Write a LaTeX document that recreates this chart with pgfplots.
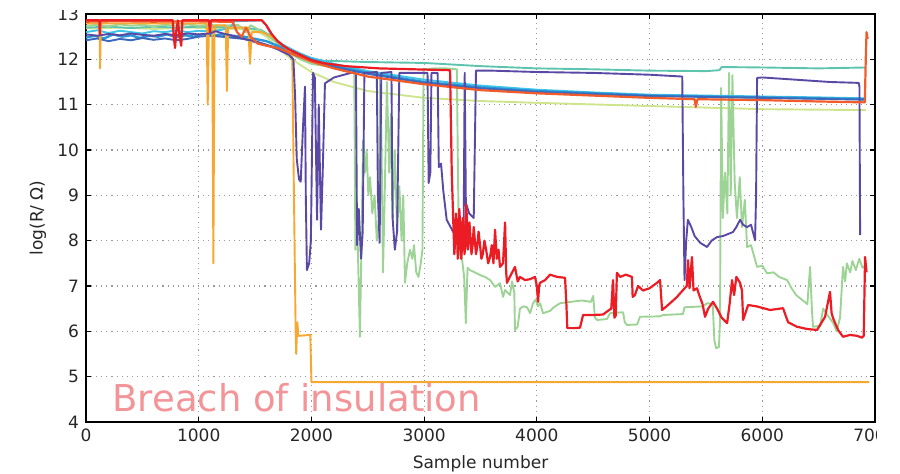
\documentclass[border=0pt]{standalone}
\usepackage{fontspec}
\setmainfont{DejaVu Sans}
\usepackage{pgfplots}
\pgfplotsset{compat=1.18}
\usetikzlibrary{calc}

\definecolor{cRed}{RGB}{236,28,36}
\definecolor{cOrRed}{RGB}{242,92,42}
\definecolor{cOrange}{RGB}{246,168,48}
\definecolor{cPurple}{RGB}{90,72,165}
\definecolor{cGreen}{RGB}{157,212,150}
\definecolor{cTeal}{RGB}{95,196,175}
\definecolor{cCyan}{RGB}{62,196,232}
\definecolor{cBlue}{RGB}{40,150,215}
\definecolor{cDkBlue}{RGB}{58,104,188}
\definecolor{cYGreen}{RGB}{206,229,142}
\definecolor{cNote}{RGB}{243,148,152}

\begin{document}
\begin{tikzpicture}
\begin{axis}[
  scale only axis, width=394.5pt, height=204pt,
  xmin=0, xmax=7000, ymin=4, ymax=13,
  xtick={0,1000,...,7000}, ytick={4,5,...,13},
  grid=major,
  major grid style={gray!80, line width=0.55pt, dash pattern=on 0.55pt off 2pt},
  tick align=inside, tick pos=both, major tick length=2.5pt,
  every tick/.style={black, line width=0.6pt},
  axis line style={black, line width=1pt},
  ticklabel style={font=\fontsize{8.5}{10}\selectfont, text=black!85},
  /pgf/number format/assume math mode=true,
  /pgf/number format/1000 sep={},
  xlabel={Sample number}, ylabel={log(R/ Ω)},
  label style={font=\fontsize{8.5}{10}\selectfont, text=black!85},
  xlabel style={at={(axis description cs:0.5,-0.115)}, anchor=base},
  ylabel style={at={(axis description cs:-0.061,0.5)}, anchor=center},
  every axis plot/.append style={line width=0.95pt, line join=round, mark=none},
]
\coordinate (SW) at (rel axis cs:0,0);
\coordinate (NE) at (rel axis cs:1,1);

% insulated samples that settle near 11
\addplot[cYGreen] coordinates {(0,12.68)(300,12.7)(600,12.67)(900,12.7)(1200,12.68)(1500,12.65)(1600,12.5)(1700,12.25)(1800,12.05)(1900,11.88)(2000,11.72)(2200,11.5)(2500,11.3)(3000,11.15)(3500,11.08)(4000,11.04)(5000,10.97)(6000,10.9)(6920,10.88)};
\addplot[cTeal] coordinates {(0,12.7)(200,12.72)(400,12.69)(600,12.72)(800,12.7)(1000,12.72)(1200,12.71)(1400,12.7)(1550,12.65)(1650,12.5)(1750,12.32)(1850,12.18)(1950,12.05)(2100,11.97)(2500,11.94)(3000,11.92)(3500,11.85)(4000,11.8)(4500,11.78)(5000,11.75)(5500,11.74)(5620,11.76)(5640,11.83)(6000,11.82)(6500,11.8)(6920,11.82)};

% sample with repeated breakdowns
\addplot[cGreen] coordinates {(0,12.74)(100,12.76)(200,12.73)(300,12.77)(400,12.74)(500,12.76)(600,12.73)(700,12.76)(800,12.74)(900,12.77)(1000,12.74)(1100,12.76)(1200,12.74)(1350,12.76)(1420,12.6)(1460,12.75)(1500,12.7)(1600,12.55)(1700,12.35)(1800,12.15)(1900,12.0)(2000,11.9)(2200,11.82)(2380,11.78)(2390,7.8)(2400,9.0)(2415,7.5)(2430,5.88)(2445,8.0)(2458,10.2)(2475,9.5)(2490,10.0)(2505,9.0)(2520,9.4)(2540,8.6)(2560,9.0)(2580,8.0)(2600,8.5)(2610,11.7)(2620,10.5)(2635,7.3)(2650,9.0)(2670,11.5)(2690,9.5)(2705,10.8)(2720,8.5)(2740,10.0)(2760,8.2)(2780,9.2)(2800,8.0)(2815,9.0)(2830,7.07)(2850,7.5)(2875,7.8)(2895,7.6)(2910,7.9)(2930,7.3)(2950,7.2)(2970,7.5)(2985,7.8)(2995,11.78)(3100,11.8)(3200,11.8)(3290,11.78)(3300,9.5)(3310,7.7)(3320,8.0)(3337,7.57)(3355,7.2)(3370,6.18)(3385,7.4)(3407,7.35)(3450,7.3)(3496,7.24)(3540,7.2)(3585,7.13)(3630,6.98)(3673,7.06)(3700,6.76)(3718,6.91)(3762,6.8)(3780,7.1)(3800,6.85)(3806,6.03)(3830,6.1)(3850,6.5)(3880,6.55)(3913,6.53)(3940,6.4)(3966,6.62)(3990,6.7)(4010,6.55)(4028,6.62)(4055,6.4)(4117,6.45)(4150,6.53)(4206,6.62)(4300,6.65)(4400,6.68)(4480,6.65)(4500,6.78)(4515,6.3)(4535,6.25)(4622,6.27)(4650,6.4)(4765,6.42)(4780,6.2)(4800,6.14)(4890,6.15)(4915,6.32)(5093,6.33)(5120,6.36)(5297,6.38)(5310,6.53)(5475,6.55)(5510,6.62)(5560,6.6)(5575,5.8)(5590,5.63)(5615,5.65)(5625,6.2)(5635,11.37)(5650,8.5)(5670,9.5)(5690,8.6)(5705,11.7)(5720,9.0)(5735,11.65)(5755,9.3)(5775,8.5)(5800,9.4)(5820,8.3)(5845,8.9)(5865,7.86)(5900,7.9)(5954,7.42)(6000,7.45)(6042,7.28)(6100,7.3)(6150,7.2)(6220,7.13)(6260,6.95)(6300,6.8)(6350,6.7)(6400,6.6)(6424,7.42)(6440,6.5)(6450,6.1)(6513,6.12)(6540,6.5)(6580,6.35)(6630,6.18)(6660,6.0)(6690,6.3)(6716,7.42)(6735,7.1)(6750,7.5)(6780,7.3)(6800,7.55)(6830,7.35)(6860,7.6)(6890,7.4)(6920,7.45)};

% samples that stay insulated
\addplot[cCyan] coordinates {(0,12.6)(100,12.64)(200,12.58)(300,12.63)(400,12.6)(500,12.57)(600,12.62)(700,12.6)(800,12.64)(900,12.6)(1000,12.63)(1100,12.62)(1200,12.65)(1280,12.7)(1320,12.84)(1560,12.86)(1600,12.75)(1650,12.5)(1700,12.38)(1800,12.25)(1900,12.13)(2000,12.03)(2200,11.9)(2500,11.74)(3000,11.55)(3500,11.42)(4000,11.33)(4500,11.27)(5000,11.22)(5500,11.2)(6000,11.18)(6500,11.16)(6920,11.14)};
\addplot[cBlue, line width=1.2pt] coordinates {(0,12.48)(80,12.52)(160,12.46)(240,12.55)(320,12.5)(400,12.53)(480,12.47)(560,12.52)(640,12.5)(720,12.55)(800,12.49)(880,12.53)(960,12.5)(1040,12.56)(1120,12.52)(1200,12.55)(1300,12.52)(1400,12.5)(1500,12.45)(1600,12.4)(1700,12.3)(1800,12.2)(1900,12.1)(2000,12.0)(2200,11.85)(2500,11.7)(3000,11.5)(3500,11.38)(4000,11.3)(4500,11.25)(5000,11.2)(5500,11.18)(6000,11.16)(6500,11.14)(6920,11.12)};
\addplot[cDkBlue] coordinates {(0,12.42)(100,12.46)(200,12.4)(300,12.45)(400,12.42)(500,12.47)(600,12.43)(700,12.46)(800,12.42)(900,12.45)(1000,12.5)(1100,12.52)(1200,12.5)(1400,12.45)(1500,12.38)(1600,12.32)(1700,12.25)(1800,12.15)(1900,12.05)(2000,11.97)(2200,11.83)(2500,11.68)(3000,11.48)(3500,11.36)(4000,11.28)(5000,11.19)(6000,11.15)(6920,11.11)};

% sample that breaks down for good
\addplot[cOrange] coordinates {(0,12.79)(120,12.79)(125,11.8)(132,12.79)(1070,12.79)(1080,11.0)(1090,12.7)(1120,12.75)(1130,7.5)(1140,12.6)(1150,12.75)(1240,12.75)(1250,11.3)(1262,12.7)(1440,12.7)(1455,11.9)(1470,12.6)(1560,12.6)(1650,12.5)(1720,12.35)(1800,12.2)(1830,12.1)(1840,10.0)(1850,8.0)(1860,6.0)(1865,5.5)(1875,6.2)(1885,5.9)(1990,5.92)(2000,4.88)(4000,4.88)(6950,4.88)};

% intermittent sample
\addplot[cPurple] coordinates {(0,12.55)(100,12.52)(200,12.56)(300,12.53)(400,12.57)(500,12.54)(600,12.52)(700,12.56)(800,12.53)(900,12.57)(1000,12.55)(1100,12.57)(1150,12.62)(1200,12.58)(1300,12.52)(1400,12.45)(1500,12.4)(1600,12.32)(1700,12.22)(1800,12.1)(1840,12.0)(1855,11.2)(1870,9.8)(1890,9.35)(1905,9.3)(1925,10.5)(1943,11.4)(1950,9.0)(1960,7.35)(1980,7.5)(1995,8.0)(2014,11.7)(2030,11.6)(2050,8.46)(2065,11.0)(2085,8.24)(2100,9.5)(2120,11.47)(2200,11.6)(2350,11.7)(2395,11.7)(2405,7.9)(2420,8.7)(2440,7.6)(2455,8.2)(2470,11.7)(2580,11.72)(2590,9.0)(2605,7.95)(2620,11.7)(2710,11.72)(2720,8.5)(2740,7.8)(2760,8.2)(2780,11.7)(3030,11.7)(3040,9.27)(3055,9.5)(3065,11.7)(3120,11.7)(3130,9.62)(3150,9.7)(3170,9.1)(3200,8.46)(3256,8.2)(3300,8.05)(3350,8.1)(3360,11.7)(3370,8.83)(3400,8.6)(3440,8.5)(3460,11.75)(3600,11.75)(4000,11.72)(4500,11.7)(5000,11.66)(5290,11.62)(5300,9.0)(5310,7.13)(5325,8.0)(5340,8.46)(5370,8.3)(5400,8.1)(5450,7.95)(5510,7.86)(5550,8.0)(5599,8.08)(5650,8.1)(5700,8.15)(5740,8.19)(5770,8.3)(5803,8.46)(5830,8.35)(5865,8.3)(5900,8.35)(5936,8.01)(5945,9.0)(5954,11.59)(6000,11.6)(6300,11.55)(6600,11.5)(6855,11.48)(6862,11.4)(6868,8.12)};

\addplot[cOrRed, line width=1.1pt] coordinates {(0,12.83)(300,12.84)(600,12.83)(900,12.84)(1200,12.83)(1300,12.83)(1340,12.6)(1380,12.5)(1420,12.7)(1460,12.5)(1520,12.35)(1600,12.3)(1700,12.25)(1800,12.15)(1900,12.05)(2000,11.95)(2200,11.8)(2500,11.62)(3000,11.45)(3500,11.32)(4000,11.25)(4500,11.2)(5000,11.15)(5400,11.12)(5410,10.95)(5425,11.12)(6000,11.1)(6500,11.07)(6910,11.05)(6918,12.0)(6925,12.6)(6935,12.45)};

\addplot[cRed, line width=1.1pt] coordinates {(0,12.86)(118,12.86)(122,12.55)(128,12.86)(770,12.86)(778,12.5)(790,12.25)(800,12.6)(815,12.86)(830,12.5)(845,12.3)(855,12.86)(1090,12.86)(1100,12.6)(1108,12.86)(1560,12.86)(1600,12.75)(1650,12.55)(1700,12.4)(1750,12.3)(1800,12.22)(1900,12.1)(2000,11.98)(2100,11.92)(2300,11.85)(2600,11.8)(2900,11.78)(3230,11.76)(3245,9.5)(3260,8.3)(3268,7.7)(3275,8.0)(3283,8.6)(3290,8.4)(3298,7.6)(3305,7.9)(3312,8.7)(3320,8.3)(3328,7.6)(3335,7.8)(3342,8.5)(3350,8.2)(3358,7.7)(3365,7.9)(3372,8.8)(3380,8.5)(3388,7.8)(3395,8.0)(3402,8.4)(3410,8.1)(3420,7.7)(3430,7.9)(3440,8.3)(3450,8.0)(3460,7.7)(3470,7.85)(3483,8.2)(3496,7.9)(3508,7.6)(3520,7.7)(3535,8.0)(3550,7.8)(3568,7.5)(3585,7.64)(3600,7.9)(3615,7.5)(3629,8.24)(3645,7.6)(3660,7.8)(3673,7.42)(3700,7.5)(3718,8.4)(3728,7.3)(3735,7.07)(3760,7.2)(3806,7.42)(3830,7.1)(3850,7.2)(3895,7.13)(3940,7.15)(3984,7.2)(4000,7.0)(4011,6.65)(4020,7.0)(4028,7.07)(4073,7.13)(4117,7.25)(4180,7.2)(4250,7.18)(4262,6.6)(4270,6.07)(4330,6.07)(4383,6.08)(4410,6.36)(4500,6.36)(4587,6.37)(4630,6.45)(4660,6.5)(4676,7.13)(4688,6.3)(4700,6.35)(4710,7.29)(4740,7.2)(4790,7.25)(4844,7.2)(4850,6.76)(4870,6.8)(4898,7.0)(4942,6.9)(5000,6.95)(5066,7.07)(5093,7.13)(5111,6.47)(5150,6.55)(5182,6.62)(5240,6.75)(5297,6.91)(5330,7.0)(5341,7.57)(5355,6.95)(5376,7.64)(5390,6.9)(5421,6.95)(5440,6.8)(5470,6.6)(5492,6.32)(5520,6.5)(5563,6.65)(5599,6.5)(5640,6.3)(5688,6.18)(5710,6.6)(5732,7.13)(5750,6.8)(5770,7.2)(5803,7.07)(5820,6.9)(5830,6.25)(5850,6.4)(5874,6.58)(5950,6.55)(6069,6.47)(6184,6.51)(6229,6.2)(6308,6.1)(6400,6.05)(6486,6.03)(6557,6.32)(6601,6.87)(6615,6.4)(6628,6.29)(6672,6.03)(6716,5.88)(6780,5.92)(6841,5.9)(6885,5.86)(6900,5.9)(6912,7.64)(6925,7.3)};

\node[anchor=base west, inner sep=0, text=cNote, font=\fontsize{18.5}{20}\selectfont] at (axis cs:231,4.24) {Breach of insulation};
\end{axis}
% trim the frame on the right and at the top
\fill[white] ($(NE)+(1pt,8pt)$) rectangle ($(SW -| NE)+(14pt,-27pt)$);
\fill[white] ($(SW |- NE)+(-44pt,8pt)$) rectangle ($(NE)+(14pt,2.2pt)$);
\pgfresetboundingbox
\path[use as bounding box] ($(SW)+(-43pt,-26pt)$) rectangle ($(NE)+(12.5pt,7pt)$);
\end{tikzpicture}
\end{document}
